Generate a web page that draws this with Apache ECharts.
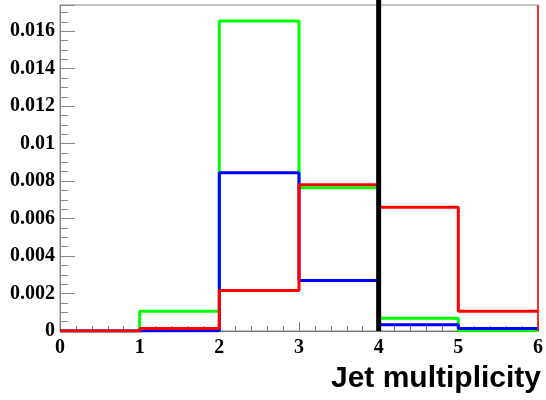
<!DOCTYPE html>
<html>
<head>
<meta charset="utf-8">
<script src="https://cdn.jsdelivr.net/npm/echarts@6/dist/echarts.min.js"></script>
<style>html,body{margin:0;padding:0;background:#fff;}#c{width:546px;height:400px;}</style>
</head>
<body>
<div id="c"></div>
<script>
// Histogram bin edges (jet multiplicity) and per-bin contents
const binEdges = [0, 1, 2, 3, 4, 5, 6];
const greenValues = [0, 0.00106, 0.01654, 0.00764, 0.00068, 0.00002];
const blueValues  = [0, 0.00002, 0.00844, 0.0027, 0.00034, 0.00013];
const redValues   = [0, 0.00013, 0.00216, 0.0078, 0.0066, 0.00106];
const cutValue = 4;
const xMin = 0, xMax = 6, xInterval = 1;
const yMin = 0, yMax = 0.0174, yInterval = 0.002;
const xTitle = 'Jet multiplicity';

function histPoints(vals) {
  const pts = vals.map((v, i) => [binEdges[i], v]);
  pts.push([binEdges[binEdges.length - 1], vals[vals.length - 1]]);
  return pts;
}

const chart = echarts.init(document.getElementById('c'), null, {renderer: 'canvas'});
const labelFont = {fontFamily: 'Liberation Serif', fontWeight: 'bold', fontSize: 20, color: '#000'};

function histSeries(name, vals, color, z) {
  return {
    name: name, type: 'line', step: 'end', data: histPoints(vals),
    symbol: 'none', z: z, animation: false,
    lineStyle: {color: color, width: 3}
  };
}

chart.setOption({
  animation: false,
  grid: {left: 60, right: 5, top: 5, bottom: 69, show: true, borderColor: '#888', borderWidth: 1},
  xAxis: {
    type: 'value', min: xMin, max: xMax, interval: xInterval,
    axisLine: {show: true, onZero: false, lineStyle: {color: '#777', width: 1}},
    axisTick: {show: true, inside: true, length: 9, lineStyle: {color: '#777'}},
    minorTick: {show: true, splitNumber: 5, length: 5, lineStyle: {color: '#777'}},
    splitLine: {show: false},
    axisLabel: Object.assign({margin: 7}, labelFont)
  },
  yAxis: {
    type: 'value', min: yMin, max: yMax, interval: yInterval,
    axisLine: {show: true, lineStyle: {color: '#888', width: 1}},
    axisTick: {show: true, inside: true, length: 15, lineStyle: {color: '#888'}},
    minorTick: {show: true, splitNumber: 4, length: 8, lineStyle: {color: '#888'}},
    splitLine: {show: false},
    axisLabel: Object.assign({margin: 5, showMaxLabel: false}, labelFont)
  },
  series: [
    histSeries('green', greenValues, '#00ff00', 2),
    histSeries('blue', blueValues, '#0000ff', 3),
    Object.assign(histSeries('red', redValues, '#ff0000', 4), {
      markLine: {
        silent: true, symbol: 'none', animation: false,
        label: {show: false},
        data: [
          [{coord: [xMax, yMin], lineStyle: {color: '#ff0000', width: 1.5, type: 'solid'}},
           {coord: [xMax, yMax]}]
        ]
      }
    }),
    {
      name: 'cut', type: 'line', clip: false, symbol: 'none', z: 5, animation: false,
      data: [[cutValue, yMin], [cutValue, yMax * 1.018]],
      lineStyle: {color: '#000', width: 5}
    }
  ],
  graphic: [{
    type: 'text', right: 5, top: 364,
    style: {text: xTitle, font: 'bold 30px "Liberation Sans"', fill: '#000'}
  }]
});
</script>
</body>
</html>
